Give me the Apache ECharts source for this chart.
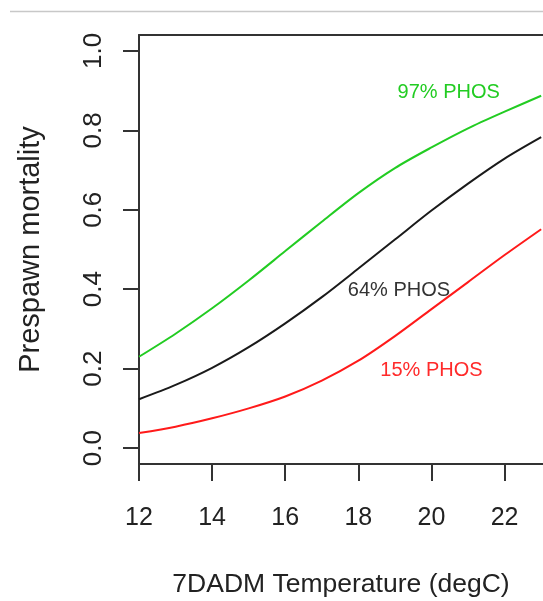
<!DOCTYPE html>
<html>
<head>
<meta charset="utf-8">
<script src="https://cdn.jsdelivr.net/npm/echarts@6/dist/echarts.min.js"></script>
<style>
  html, body { margin: 0; padding: 0; background: #fff; }
  #chart { width: 543px; height: 601px; }
</style>
</head>
<body>
<div id="chart"></div>
<script>
// Water temperature (7-day average daily max, degC)
const temps = [12, 13, 14, 15, 16, 17, 18, 19, 20, 21, 22, 23];
// Predicted prespawn mortality for three hatchery-origin spawner fractions
const phos97 = [0.230, 0.288, 0.352, 0.422, 0.496, 0.570, 0.642, 0.705, 0.757, 0.805, 0.847, 0.887];
const phos64 = [0.123, 0.159, 0.202, 0.254, 0.314, 0.380, 0.452, 0.525, 0.598, 0.666, 0.729, 0.783];
const phos15 = [0.038, 0.054, 0.075, 0.100, 0.130, 0.170, 0.220, 0.282, 0.350, 0.418, 0.486, 0.551];

const xTicks = [12, 14, 16, 18, 20, 22];
const yTicks = [0, 0.2, 0.4, 0.6, 0.8, 1.0];

// Curve labels: text and anchor (temperature, mortality)
const curveLabels = [
  { text: '97% PHOS', at: [20.47, 0.896], color: '#22cc22' },
  { text: '64% PHOS', at: [19.11, 0.397], color: '#333333' },
  { text: '15% PHOS', at: [20.0, 0.196], color: '#ff2a2a' }
];

const font = '"Liberation Sans", Arial, sans-serif';
const axisColor = '#333333';

function pairs(ys) { return temps.map((t, i) => [t, ys[i]]); }

function labelPoint(lbl) {
  return {
    coord: lbl.at,
    symbol: 'circle',
    symbolSize: 0,
    label: {
      show: true,
      position: 'inside',
      formatter: lbl.text,
      color: lbl.color,
      fontFamily: font,
      fontSize: 20
    }
  };
}

function curve(name, ys, color, lbl) {
  return {
    name: name,
    type: 'line',
    data: pairs(ys),
    showSymbol: false,
    smooth: 0.3,
    lineStyle: { color: color, width: 2 },
    silent: true,
    markPoint: { silent: true, data: [labelPoint(lbl)] }
  };
}

const chart = echarts.init(document.getElementById('chart'), null, { renderer: 'canvas' });
chart.setOption({
  animation: false,
  backgroundColor: '#ffffff',
  grid: { left: 139, right: 0, top: 35, bottom: 137, containLabel: false, outerBoundsMode: 'none' },
  xAxis: [
    {
      type: 'value',
      min: 12,
      max: 23.05,
      axisLine: { show: true, onZero: false, lineStyle: { color: axisColor, width: 2 } },
      axisTick: { show: true, length: 17, customValues: xTicks, lineStyle: { color: axisColor, width: 2 } },
      axisLabel: { customValues: xTicks, color: '#222', fontFamily: font, fontSize: 25, margin: 42 },
      splitLine: { show: false },
      name: '7DADM Temperature (degC)',
      nameLocation: 'middle',
      nameGap: 107,
      nameTextStyle: { color: '#222', fontFamily: font, fontSize: 26.5 }
    },
    {
      type: 'value',
      position: 'top',
      min: 12,
      max: 23.05,
      axisLine: { show: true, onZero: false, lineStyle: { color: axisColor, width: 2 } },
      axisTick: { show: false },
      axisLabel: { show: false },
      splitLine: { show: false }
    }
  ],
  yAxis: {
    type: 'value',
    min: -0.04,
    max: 1.04,
    axisLine: { show: true, onZero: false, lineStyle: { color: axisColor, width: 2 } },
    axisTick: { show: true, length: 16, customValues: yTicks, lineStyle: { color: axisColor, width: 2 } },
    axisLabel: {
      customValues: yTicks,
      rotate: 90,
      color: '#222',
      fontFamily: font,
      fontSize: 26,
      margin: 32,
      formatter: v => v.toFixed(1)
    },
    splitLine: { show: false },
    name: 'Prespawn mortality',
    nameLocation: 'middle',
    nameGap: 94,
    nameRotate: 90,
    nameTextStyle: { color: '#222', fontFamily: font, fontSize: 29 }
  },
  graphic: [
    {
      type: 'line',
      shape: { x1: 10, y1: 11.5, x2: 543, y2: 11.5 },
      style: { stroke: '#c8c8c8', lineWidth: 1.5 },
      silent: true
    }
  ],
  series: [
    curve('97% PHOS', phos97, '#22cc22', curveLabels[0]),
    curve('64% PHOS', phos64, '#1a1a1a', curveLabels[1]),
    curve('15% PHOS', phos15, '#ff1a1a', curveLabels[2])
  ]
});
</script>
</body>
</html>
